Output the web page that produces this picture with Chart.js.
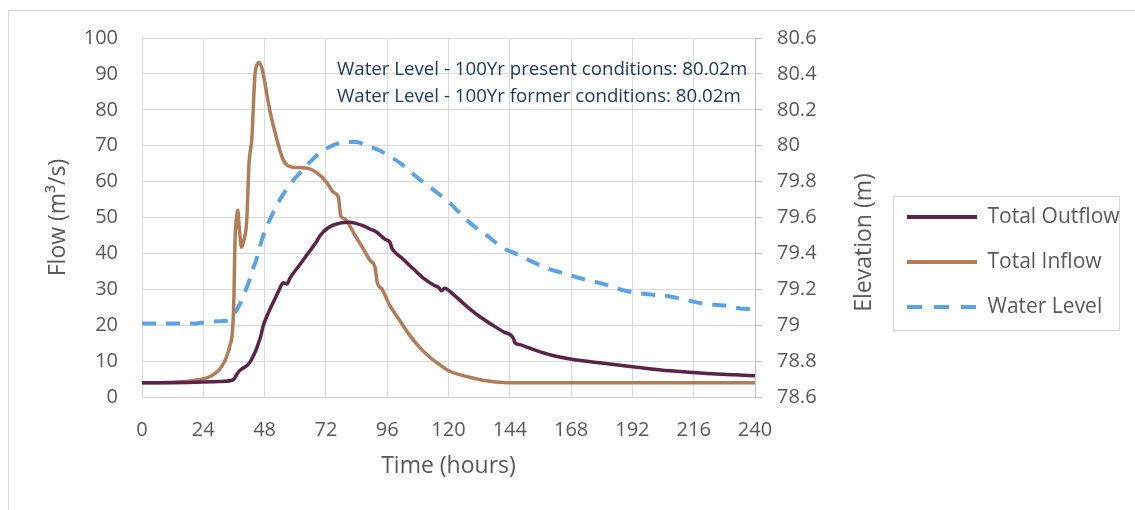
<!DOCTYPE html>
<html>
<head>
<meta charset="utf-8">
<script src="https://cdn.jsdelivr.net/npm/chart.js@4"></script>
<style>
  body { margin: 0; background: #fff; }
</style>
</head>
<body>
<canvas id="chart" width="1135" height="510"></canvas>
<script>
const hourTicks = [0, 24, 48, 72, 96, 120, 144, 168, 192, 216, 240];

// Total Outflow (m3/s)
const outflowHours = [0, 12, 21, 30, 35, 36, 37.7, 39, 41, 42.5, 43.6, 44.6, 45.5, 46.5, 47.5, 49.5, 51.4, 53.5, 55.3, 56.7, 58, 61.9, 65, 67.7, 68.5, 69.7, 71, 72.3, 74, 76.2, 79, 81.4, 84, 86.7, 89.3, 91.9, 95, 97.1, 97.8, 99.1, 102, 106.2, 110, 114.7, 116, 117.3, 118.5, 119.3, 122, 128.4, 133, 137.5, 142, 144.5, 145.5, 146, 148, 151, 154.5, 160, 167.6, 180.6, 193.7, 206.7, 219.8, 232, 240];
const outflowFlow = [4, 4, 4.1, 4.3, 4.6, 5, 6.9, 7.8, 8.7, 10, 11.5, 13, 14.8, 17, 19.9, 23.5, 26.4, 29.5, 31.8, 31.5, 33.2, 37, 40, 42.6, 43.5, 44.9, 46, 46.8, 47.6, 48.2, 48.6, 48.7, 48.3, 47.7, 46.8, 45.9, 44, 43.1, 41.5, 40.3, 38.5, 35.7, 33.2, 31, 30.6, 29.6, 30.3, 30.1, 28.5, 24.5, 22, 19.9, 18, 17.2, 16.2, 15.1, 14.6, 13.8, 12.9, 11.7, 10.6, 9.4, 8.3, 7.3, 6.6, 6.2, 5.9];

// Total Inflow (m3/s)
const inflowHours = [0, 6, 12, 18, 22, 26, 29, 31, 33, 34.5, 35.5, 36, 36.4, 37, 37.5, 38.2, 39, 40, 41, 41.9, 43, 44.2, 45.2, 45.9, 47, 48, 50, 52.7, 55.3, 57, 59, 62, 65, 68.4, 72.3, 75, 76.9, 77.5, 77.8, 79.5, 83, 86.7, 89.3, 91.2, 92.1, 94, 97.1, 100, 104.9, 108, 112.8, 116, 120.1, 124, 128.4, 132, 136.3, 140, 143, 160, 200, 240];
const inflowFlow = [4, 4, 4.1, 4.4, 4.8, 5.5, 6.8, 8.3, 11, 14.5, 19, 28, 43, 50, 52, 46, 41.7, 44, 49, 65, 72, 89.5, 92.8, 93.2, 91.5, 88, 80, 72, 66, 64.5, 64, 63.9, 63.7, 62.5, 59.8, 57, 55.6, 52, 50.5, 49.6, 45.5, 41.2, 38, 36.2, 32, 30, 25.4, 22.3, 17.1, 14.4, 11, 9.3, 7.3, 6.3, 5.5, 4.9, 4.4, 4.1, 4, 4, 4, 4];

// Water Level (m)
const levelHours = [0, 12, 21, 24, 26.6, 30, 33.2, 35, 36.4, 38, 39.7, 41, 42.3, 43.6, 44.9, 46.2, 47.5, 49.5, 51.4, 54, 56.7, 60, 63.2, 66.5, 69.7, 73, 76.2, 80, 84.1, 88, 91.9, 96, 102.3, 108, 115.4, 120.6, 124, 128.4, 135, 141.5, 146, 151.9, 158, 165, 172, 180.6, 187, 193.7, 200, 206.7, 213, 219.8, 228, 236.8, 240];
const levelElev = [79.01, 79.01, 79.01, 79.015, 79.02, 79.022, 79.025, 79.04, 79.07, 79.11, 79.16, 79.21, 79.26, 79.32, 79.37, 79.44, 79.5, 79.57, 79.63, 79.7, 79.76, 79.82, 79.87, 79.92, 79.96, 79.99, 80.01, 80.02, 80.02, 80.0, 79.98, 79.95, 79.89, 79.82, 79.74, 79.68, 79.63, 79.57, 79.5, 79.43, 79.4, 79.36, 79.32, 79.29, 79.26, 79.23, 79.2, 79.18, 79.17, 79.16, 79.14, 79.12, 79.11, 79.09, 79.09];

const notes = [
  'Water Level - 100Yr present conditions: 80.02m',
  'Water Level - 100Yr former conditions: 80.02m'
];
const rightTitle = 'Elevation (m)';

const toPoints = (xs, ys) => xs.map((x, i) => ({ x, y: ys[i] }));

const FONT = "'Open Sans', 'Noto Sans', sans-serif";
const GREY = '#595959';
const GRID = '#d9d9d9';
const LEGEND_WIDTH = 244;

// Frame, legend box, right axis title and annotation text
const extras = {
  id: 'extras',
  afterInit(chart) {
    // the layout caps a right legend at a third of half the width; give it room
    const lg = chart.legend;
    const fit = lg.fit.bind(lg);
    lg.fit = function () { fit(); this.width = LEGEND_WIDTH; };
  },
  beforeDraw(chart) {
    const ctx = chart.ctx;
    ctx.save();
    ctx.strokeStyle = GRID;
    ctx.lineWidth = 1;
    ctx.beginPath();
    ctx.moveTo(8.5, chart.height);
    ctx.lineTo(8.5, 10.5);
    ctx.lineTo(chart.width, 10.5);
    ctx.stroke();
    const lg = chart.legend;
    const boxes = lg.legendHitBoxes;
    if (boxes && boxes.length) {
      const first = boxes[0], last = boxes[boxes.length - 1];
      const top = Math.round(first.top - 11) + 0.5;
      const bottom = Math.round(last.top + last.height + 12) + 0.5;
      const left = Math.round(first.left - 14) + 0.5;
      const right = Math.round(lg.right - 8) + 0.5;
      ctx.strokeRect(left, top, right - left, bottom - top);
    }
    ctx.restore();
  },
  afterDraw(chart) {
    const ctx = chart.ctx;
    const area = chart.chartArea;
    ctx.save();
    ctx.fillStyle = '#1f3864';
    ctx.font = '18.7px ' + FONT;
    ctx.textBaseline = 'middle';
    ctx.textAlign = 'left';
    notes.forEach((t, i) => ctx.fillText(t, area.left + 195, area.top + 32 + i * 27));
    ctx.restore();

    // right axis title reads bottom-to-top like the left one
    const y2 = chart.scales.y2;
    ctx.save();
    ctx.translate(y2.right - 19, (area.top + area.bottom) / 2 + 25);
    ctx.rotate(-Math.PI / 2);
    ctx.fillStyle = GREY;
    ctx.font = '23px ' + FONT;
    ctx.textAlign = 'center';
    ctx.textBaseline = 'middle';
    ctx.fillText(rightTitle, 0, 0);
    ctx.restore();
  }
};

new Chart(document.getElementById('chart').getContext('2d'), {
  type: 'line',
  data: {
    datasets: [
      {
        label: 'Total Outflow',
        data: toPoints(outflowHours, outflowFlow),
        borderColor: '#5c2349',
        backgroundColor: '#5c2349',
        borderWidth: 3.5,
        yAxisID: 'y'
      },
      {
        label: 'Total Inflow',
        data: toPoints(inflowHours, inflowFlow),
        borderColor: '#b07d58',
        backgroundColor: '#b07d58',
        borderWidth: 3.5,
        yAxisID: 'y'
      },
      {
        label: 'Water Level',
        data: toPoints(levelHours, levelElev),
        borderColor: '#5ba3e6',
        backgroundColor: '#5ba3e6',
        borderWidth: 4,
        borderDash: [14, 10],
        yAxisID: 'y2'
      }
    ]
  },
  options: {
    responsive: false,
    animation: false,
    devicePixelRatio: 1,
    elements: {
      point: { radius: 0 },
      line: { cubicInterpolationMode: 'monotone', borderCapStyle: 'butt' }
    },
    layout: { padding: { left: 9, top: 38, right: 8, bottom: 24 } },
    plugins: {
      tooltip: { enabled: false },
      legend: {
        position: 'right',
        labels: {
          usePointStyle: true,
          pointStyle: 'line',
          pointStyleWidth: 70,
          padding: 24,
          color: GREY,
          font: { family: FONT, size: 21 },
          // point style legends ignore the dataset dash, so copy it over
          generateLabels: chart => Chart.defaults.plugins.legend.labels.generateLabels(chart).map(item => {
            const ds = chart.data.datasets[item.datasetIndex];
            item.lineWidth = 4;
            item.lineDash = ds.borderDash ? [15, 12] : [];
            return item;
          })
        }
      }
    },
    scales: {
      x: {
        type: 'linear',
        min: 0,
        max: 240,
        afterBuildTicks: s => { s.ticks = hourTicks.map(v => ({ value: v })); },
        afterFit: s => { s.height = 89; },
        grid: { color: GRID, drawTicks: false },
        border: { color: '#d0d0d0' },
        ticks: { color: GREY, padding: 21, font: { family: FONT, size: 20 } },
        title: {
          display: true,
          text: 'Time (hours)',
          color: GREY,
          padding: { top: 0, bottom: 6 },
          font: { family: FONT, size: 23 }
        }
      },
      y: {
        position: 'left',
        min: 0,
        max: 100,
        afterFit: s => { s.width = 133; },
        grid: { color: GRID, drawTicks: false },
        border: { color: GRID },
        ticks: { stepSize: 10, color: GREY, padding: 24, font: { family: FONT, size: 20 } },
        title: {
          display: true,
          text: 'Flow (m³/s)',
          color: GREY,
          padding: { top: 36, bottom: 0 },
          font: { family: FONT, size: 23 }
        }
      },
      y2: {
        position: 'right',
        min: 78.6,
        max: 80.6,
        afterFit: s => { s.width = 128; },
        grid: { drawOnChartArea: false, color: '#bfbfbf', tickLength: 7 },
        border: { color: '#bfbfbf' },
        ticks: {
          stepSize: 0.2,
          color: GREY,
          padding: 15,
          font: { family: FONT, size: 20 },
          callback: v => String(+v.toFixed(1))
        }
      }
    }
  },
  plugins: [extras]
});
</script>
</body>
</html>
